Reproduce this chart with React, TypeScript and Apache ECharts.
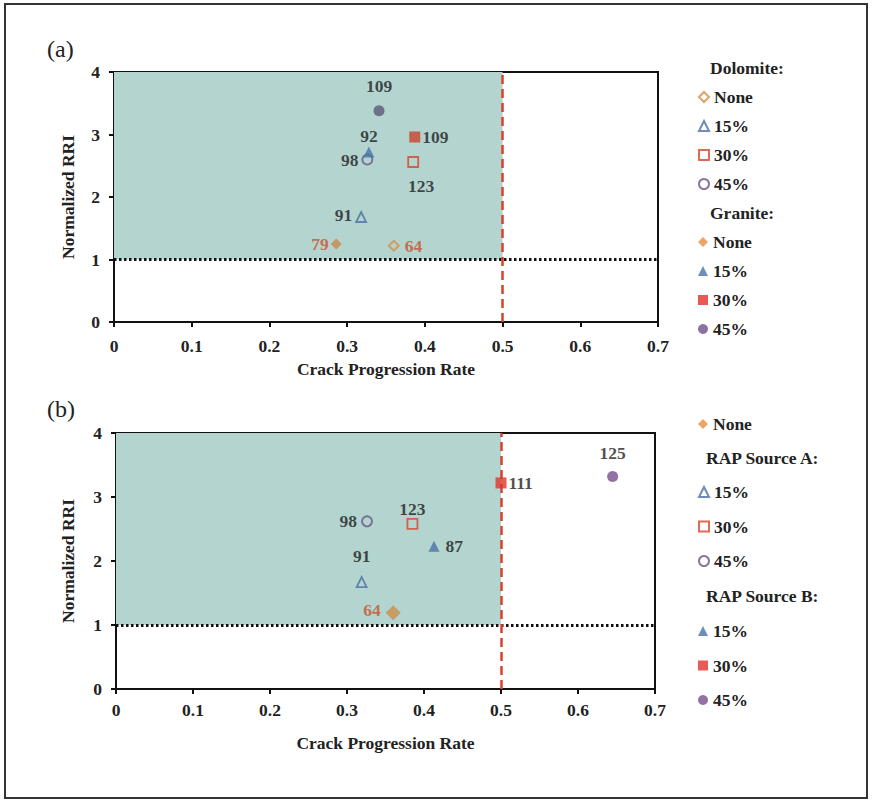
import React, { useEffect, useRef } from "react";
import * as echarts from "echarts";

// ---- Data ----
// Panel (a): Dolomite (open) vs Granite (filled)
const aSeriesNames = ["Dolomite None", "Dolomite 15%", "Dolomite 30%", "Dolomite 45%", "Granite None", "Granite 15%", "Granite 30%", "Granite 45%"];
const aLegendText = ["None", "15%", "30%", "45%", "None", "15%", "30%", "45%"];
const aCrackRate = [0.36, 0.318, 0.385, 0.326, 0.286, 0.328, 0.387, 0.341];
const aNormRRI = [1.22, 1.68, 2.56, 2.6, 1.25, 2.72, 2.96, 3.38];
const aLabels = ["64", "91", "123", "98", "79", "92", "109", "109"];

// Panel (b): None, RAP Source A (open), RAP Source B (filled)
const bSeriesNames = ["None", "RAP Source A 15%", "RAP Source A 30%", "RAP Source A 45%", "RAP Source B 15%", "RAP Source B 30%", "RAP Source B 45%"];
const bLegendText = ["None", "15%", "30%", "45%", "15%", "30%", "45%"];
const bCrackRate = [0.36, 0.319, 0.385, 0.326, 0.413, 0.5, 0.645];
const bNormRRI = [1.19, 1.67, 2.58, 2.62, 2.23, 3.22, 3.32];
const bLabels = ["64", "91", "123", "98", "87", "111", "125"];

const xTicks = { min: 0, max: 0.7, interval: 0.1 };
const yTicks = { min: 0, max: 4, interval: 1 };
const shadeX = [0, 0.5];
const shadeY = [1, 4];

// ---- Styles ----
const FONT = "'Liberation Serif', 'Times New Roman', 'DejaVu Serif', serif";
const FS = 17.5;
const ORANGE = "#d98b3e";
const BLUE = "#4a6fa3";
const RED = "#d6432c";
const PURPLE = "#6a5582";
const LABEL_DARK = "#1e1e1e";
const LABEL_ORANGE = "#c8532c";

type Sty = { symbol: string; size: number; color: string; legendColor?: string; open: boolean; pos: string; dist: number; offset?: number[]; lblColor: string };

const aStyles: Sty[] = [
  { symbol: "diamond", size: 10, color: ORANGE, open: true, pos: "right", dist: 5, lblColor: LABEL_ORANGE },
  { symbol: "triangle", size: 10, color: BLUE, open: true, pos: "left", dist: 3, offset: [0, -2], lblColor: LABEL_DARK },
  { symbol: "rect", size: 10, color: RED, open: true, pos: "bottom", dist: 9, offset: [8, 0], lblColor: LABEL_DARK },
  { symbol: "circle", size: 10, color: PURPLE, open: true, pos: "left", dist: 3, lblColor: LABEL_DARK },
  { symbol: "diamond", size: 11, color: "#c88a4a", legendColor: "#e88e3c", open: false, pos: "left", dist: 2, lblColor: LABEL_ORANGE },
  { symbol: "triangle", size: 11, color: "#4874a6", open: false, pos: "top", dist: 2, lblColor: LABEL_DARK },
  { symbol: "rect", size: 11, color: "#c9452c", legendColor: "#e0302a", open: false, pos: "right", dist: 2, lblColor: LABEL_DARK },
  { symbol: "circle", size: 11, color: "#5d5575", legendColor: "#6e4f88", open: false, pos: "top", dist: 10, lblColor: LABEL_DARK },
];

const bStyles: Sty[] = [
  { symbol: "diamond", size: 15, color: "#c8904a", legendColor: "#e88e3c", open: false, pos: "left", dist: 5, offset: [0, -3], lblColor: LABEL_ORANGE },
  { symbol: "triangle", size: 10, color: BLUE, open: true, pos: "top", dist: 11, lblColor: LABEL_DARK },
  { symbol: "rect", size: 10, color: RED, open: true, pos: "top", dist: 0, lblColor: LABEL_DARK },
  { symbol: "circle", size: 10, color: PURPLE, open: true, pos: "left", dist: 4, lblColor: LABEL_DARK },
  { symbol: "triangle", size: 11, color: "#4872a6", open: false, pos: "right", dist: 6, lblColor: LABEL_DARK },
  { symbol: "rect", size: 11, color: "#e0352a", open: false, pos: "right", dist: 2, lblColor: LABEL_DARK },
  { symbol: "circle", size: 11, color: "#7a4d8c", open: false, pos: "top", dist: 9, lblColor: LABEL_DARK },
];

const legendTextMap: Record<string, string> = {};
aSeriesNames.forEach((n, i) => (legendTextMap[n] = aLegendText[i]));
bSeriesNames.forEach((n, i) => (legendTextMap[n] = bLegendText[i]));

function makeSeries(name: string, x: number, y: number, lbl: string, s: Sty, idx: number) {
  return {
    name,
    type: "scatter",
    xAxisIndex: idx,
    yAxisIndex: idx,
    symbol: s.symbol,
    symbolSize: s.size,
    z: 5,
    itemStyle: s.open
      ? { color: "rgba(255,255,255,0)", borderColor: s.color, borderWidth: 1.8 }
      : { color: s.color, borderWidth: 0 },
    label: {
      show: true,
      formatter: lbl,
      position: s.pos,
      distance: s.dist,
      offset: s.offset || [0, 0],
      color: s.lblColor,
      fontFamily: FONT,
      fontWeight: "bold",
      fontSize: FS,
    },
    data: [[x, y]],
  };
}

function legendItems(names: string[], styles: Sty[]) {
  return names.map((n, i) => {
    const s = styles[i];
    return s.open
      ? { name: n }
      : { name: n, itemStyle: { color: s.legendColor || s.color } };
  });
}

function refSeries(idx: number) {
  return {
    name: "ref" + idx,
    type: "scatter",
    xAxisIndex: idx,
    yAxisIndex: idx,
    data: [],
    z: 1,
    markArea: {
      silent: true,
      itemStyle: { color: "#b4d4cf" },
      data: [[{ coord: [shadeX[0], shadeY[0]] }, { coord: [shadeX[1], shadeY[1]] }]],
    },
    markLine: {
      silent: true,
      symbol: ["none", "none"],
      label: { show: false },
      data: [
        { yAxis: 1, lineStyle: { color: "#111", width: 3, type: [2.5, 2.5] } },
        { xAxis: 0.5, lineStyle: { color: "#d9412b", width: 2.5, type: [9, 5] } },
      ],
    },
  };
}

const axisCommonX = {
  type: "value",
  ...xTicks,
  name: "Crack Progression Rate",
  nameLocation: "middle",
  nameTextStyle: { fontFamily: FONT, fontWeight: "bold", fontSize: FS, color: "#222" },
  axisLine: { show: true, onZero: false, lineStyle: { color: "#111", width: 2 } },
  axisTick: { show: true, inside: false, length: 5, lineStyle: { color: "#111", width: 2 } },
  splitLine: { show: false },
};

const axisCommonY = {
  type: "value",
  ...yTicks,
  name: "Normalized RRI",
  nameLocation: "middle",
  nameRotate: 90,
  nameGap: 37,
  nameTextStyle: { fontFamily: FONT, fontWeight: "bold", fontSize: FS, color: "#222" },
  axisLine: { show: true, onZero: false, lineStyle: { color: "#111", width: 2 } },
  axisTick: { show: true, inside: false, length: 5, lineStyle: { color: "#111", width: 2 } },
  axisLabel: { fontFamily: FONT, fontWeight: "bold", fontSize: FS, color: "#222", margin: 14 },
  splitLine: { show: false },
};

const legendBase = {
  orient: "vertical",
  selectedMode: false,
  itemWidth: 10,
  itemHeight: 10,
  itemGap: 11,
  formatter: (n: string) => legendTextMap[n] || n,
  textStyle: { fontFamily: FONT, fontWeight: "bold", fontSize: FS, color: "#222", lineHeight: 18 },
};

export default function App() {
  const ref = useRef<HTMLDivElement>(null);
  useEffect(() => {
    if (!ref.current) return;
    const chart = echarts.init(ref.current, null, { renderer: "svg" });
    const series: any[] = [refSeries(0), refSeries(1)];
    aSeriesNames.forEach((n, i) => series.push(makeSeries(n, aCrackRate[i], aNormRRI[i], aLabels[i], aStyles[i], 0)));
    bSeriesNames.forEach((n, i) => series.push(makeSeries(n, bCrackRate[i], bNormRRI[i], bLabels[i], bStyles[i], 1)));

    const headerStyle = { fontFamily: FONT, fontWeight: "bold", fontSize: FS, fill: "#222" };
    const tickLbl = { fontFamily: FONT, fontWeight: "bold", fontSize: FS, color: "#222" };
    chart.setOption({
      animation: false,
      backgroundColor: "#ffffff",
      grid: [
        { left: 114, top: 72, width: 544, height: 250, show: true, borderColor: "#111", borderWidth: 2, backgroundColor: "transparent" },
        { left: 116, top: 433, width: 539, height: 256, show: true, borderColor: "#111", borderWidth: 2, backgroundColor: "transparent" },
      ],
      xAxis: [
        { ...axisCommonX, gridIndex: 0, nameGap: 38, axisLabel: { ...tickLbl, margin: 15 } },
        { ...axisCommonX, gridIndex: 1, nameGap: 45, axisLabel: { ...tickLbl, margin: 12 } },
      ],
      yAxis: [
        { ...axisCommonY, gridIndex: 0 },
        { ...axisCommonY, gridIndex: 1, nameGap: 39 },
      ],
      legend: [
        { ...legendBase, left: 693, top: 83, data: legendItems(aSeriesNames.slice(0, 4), aStyles.slice(0, 4)) },
        { ...legendBase, left: 693, top: 228, data: legendItems(aSeriesNames.slice(4, 8), aStyles.slice(4, 8)) },
        { ...legendBase, left: 693, top: 410, data: legendItems(bSeriesNames.slice(0, 1), bStyles.slice(0, 1)) },
        { ...legendBase, left: 693, top: 478, itemGap: 16.5, data: legendItems(bSeriesNames.slice(1, 4), bStyles.slice(1, 4)) },
        { ...legendBase, left: 693, top: 617, itemGap: 16.5, data: legendItems(bSeriesNames.slice(4, 7), bStyles.slice(4, 7)) },
      ],
      graphic: [
        { type: "rect", shape: { x: 5, y: 4, width: 862, height: 794 }, style: { fill: "none", stroke: "#333", lineWidth: 2 }, z: 0 },
        { type: "text", x: 47, y: 37, style: { text: "(a)", fontFamily: FONT, fontSize: 24, fill: "#222" } },
        { type: "text", x: 47, y: 397, style: { text: "(b)", fontFamily: FONT, fontSize: 24, fill: "#222" } },
        { type: "text", x: 710, y: 68, style: { ...headerStyle, text: "Dolomite:", verticalAlign: "middle" } },
        { type: "text", x: 710, y: 213, style: { ...headerStyle, text: "Granite:", verticalAlign: "middle" } },
        { type: "text", x: 706, y: 458, style: { ...headerStyle, text: "RAP Source A:", verticalAlign: "middle" } },
        { type: "text", x: 706, y: 596, style: { ...headerStyle, text: "RAP Source B:", verticalAlign: "middle" } },
      ],
      series,
    });
    return () => chart.dispose();
  }, []);
  return <div ref={ref} style={{ position: "fixed", left: 0, top: 0, width: 872, height: 801 }} />;
}
